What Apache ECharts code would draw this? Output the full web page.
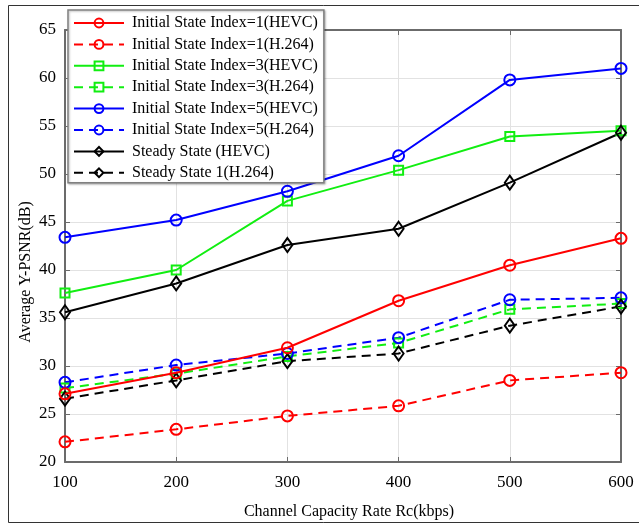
<!DOCTYPE html>
<html>
<head>
<meta charset="utf-8">
<script src="https://cdn.jsdelivr.net/npm/echarts@6/dist/echarts.min.js"></script>
<style>
  html, body { margin: 0; padding: 0; background: #fff; }
  #chart { width: 639px; height: 525px; }
</style>
</head>
<body>
<div id="chart"></div>
<script>
// Channel capacity rates (kbps) on the x axis
var rates = [100, 200, 300, 400, 500, 600];

// Average Y-PSNR (dB) for each configuration
var idx1Hevc = [27.1, 29.3, 31.9, 36.8, 40.5, 43.3];
var idx1H264 = [22.1, 23.4, 24.8, 25.85, 28.5, 29.3];
var idx3Hevc = [37.6, 40.0, 47.2, 50.4, 53.9, 54.5];
var idx3H264 = [27.7, 29.2, 31.0, 32.4, 35.9, 36.5];
var idx5Hevc = [43.4, 45.2, 48.2, 51.9, 59.8, 61.0];
var idx5H264 = [28.3, 30.1, 31.3, 32.95, 36.9, 37.1];
var steadyHevc = [35.6, 38.6, 42.6, 44.3, 49.1, 54.3];
var steadyH264 = [26.6, 28.5, 30.5, 31.3, 34.2, 36.2];

var seriesNames = [
  'Initial State Index=1(HEVC)',
  'Initial State Index=1(H.264)',
  'Initial State Index=3(HEVC)',
  'Initial State Index=3(H.264)',
  'Initial State Index=5(HEVC)',
  'Initial State Index=5(H.264)',
  'Steady State (HEVC)',
  'Steady State 1(H.264)'
];

var FONT = '"Liberation Serif", "Times New Roman", serif';
var AXIS_GREY = '#6b6b6b';

function pairs(values) {
  return rates.map(function (r, i) { return [r, values[i]]; });
}

function makeSeries(name, values, color, dashed, symbol, size) {
  return {
    name: name,
    type: 'line',
    data: pairs(values),
    symbol: symbol,
    symbolSize: size,
    showSymbol: true,
    z: dashed ? 3 : 4,
    lineStyle: { color: color, width: 2, type: dashed ? [9, 6] : 'solid' },
    itemStyle: { color: 'rgba(255,255,255,0)', borderColor: color, borderWidth: 2 },
    emphasis: { disabled: true },
    animation: false
  };
}

var chart = echarts.init(document.getElementById('chart'), null, { renderer: 'canvas' });

var valueAxisCommon = {
  type: 'value',
  axisLine: { show: true, lineStyle: { color: AXIS_GREY, width: 2 } },
  axisTick: { show: true, inside: true, length: 5, lineStyle: { color: AXIS_GREY, width: 1 } }
};

chart.setOption({
  backgroundColor: '#ffffff',
  animation: false,
  textStyle: { fontFamily: FONT },
  grid: { left: 65, right: 18, top: 30, bottom: 63, containLabel: false },
  xAxis: [
    Object.assign({}, valueAxisCommon, {
      position: 'bottom',
      min: 100, max: 600, interval: 100,
      axisLabel: { color: '#000', fontFamily: FONT, fontSize: 17, margin: 12 },
      splitLine: { show: true, lineStyle: { color: '#e2e2e2', width: 1 } }
    }),
    Object.assign({}, valueAxisCommon, {
      position: 'top',
      min: 100, max: 600, interval: 100,
      axisLabel: { show: false },
      splitLine: { show: false }
    })
  ],
  yAxis: [
    Object.assign({}, valueAxisCommon, {
      position: 'left',
      min: 20, max: 65, interval: 5,
      axisLabel: { color: '#000', fontFamily: FONT, fontSize: 17, margin: 9 },
      splitLine: { show: true, lineStyle: { color: '#e2e2e2', width: 1 } }
    }),
    Object.assign({}, valueAxisCommon, {
      position: 'right',
      min: 20, max: 65, interval: 5,
      axisLabel: { show: false },
      splitLine: { show: false }
    })
  ],
  legend: {
    data: seriesNames,
    orient: 'vertical',
    left: 68,
    top: 10,
    itemWidth: 50,
    itemHeight: 11,
    itemGap: 5.4,
    padding: [5, 6, 2, 5],
    backgroundColor: '#ffffff',
    borderColor: '#808080',
    borderWidth: 1.5,
    shadowColor: 'rgba(0,0,0,0.25)',
    shadowBlur: 2,
    shadowOffsetX: 1,
    shadowOffsetY: 1,
    selectedMode: false,
    z: 10,
    textStyle: { color: '#000', fontFamily: FONT, fontSize: 16, padding: [0, 0, 0, 3] }
  },
  series: [
    makeSeries(seriesNames[0], idx1Hevc, '#ff0000', false, 'circle', 11),
    makeSeries(seriesNames[1], idx1H264, '#ff0000', true, 'circle', 11),
    makeSeries(seriesNames[2], idx3Hevc, '#11ee11', false, 'rect', 9),
    makeSeries(seriesNames[3], idx3H264, '#11ee11', true, 'rect', 9),
    makeSeries(seriesNames[4], idx5Hevc, '#0000ff', false, 'circle', 11),
    makeSeries(seriesNames[5], idx5H264, '#0000ff', true, 'circle', 11),
    makeSeries(seriesNames[6], steadyHevc, '#000000', false, 'diamond', [10, 14]),
    makeSeries(seriesNames[7], steadyH264, '#000000', true, 'diamond', [10, 14])
  ],
  graphic: [
    {
      // figure frame: top, left and bottom edges
      type: 'polyline',
      silent: true,
      z: -10,
      shape: { points: [[639, 5.5], [8.5, 5.5], [8.5, 522.5], [639, 522.5]] },
      style: { fill: 'none', stroke: '#333', lineWidth: 1 }
    },
    {
      type: 'text',
      silent: true,
      x: 26,
      y: 272,
      rotation: Math.PI / 2,
      style: {
        text: 'Average Y-PSNR(dB)',
        fill: '#000',
        font: '16px ' + FONT,
        align: 'center',
        verticalAlign: 'middle'
      }
    },
    {
      type: 'text',
      silent: true,
      x: 349,
      y: 512,
      style: {
        text: 'Channel Capacity Rate Rc(kbps)',
        fill: '#000',
        font: '16px ' + FONT,
        align: 'center',
        verticalAlign: 'middle'
      }
    }
  ]
});
</script>
</body>
</html>
